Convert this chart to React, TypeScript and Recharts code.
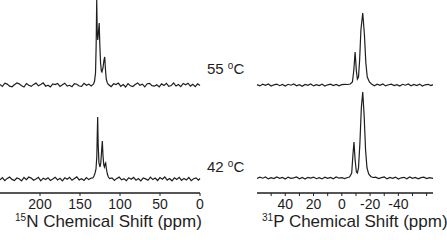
import React from 'react';
import { LineChart, Line, XAxis, YAxis } from 'recharts';

// 15N spectra: [chemical shift (ppm), intensity (a.u.)]
const n15At55: [number, number][] = [
  [250, 0.5], [247, -1.5], [244, 1.8], [241, 0.9], [238, -1.2], [235, -1.8], [232, 0.3], [229, 2.0], [226, 1.1], [223, -0.8],
  [220, -2.0], [217, 1.5], [214, -0.3], [211, -1.4], [208, 0.6], [205, 1.9], [202, -0.8], [199, 0.4], [196, 2.2], [193, -1.2],
  [190, -0.2], [187, -1.9], [184, 1.1], [181, 0.4], [178, 1.6], [175, -1.4], [172, 0.2], [169, 1.8], [166, -1.1], [163, -0.3],
  [160, -1.7], [157, 1.3], [154, 0.8], [151, -1.0], [148, -1.3], [145, 1.7], [142, -0.2], [139, 0.9], [136, -0.9],
  [133, 1], [131.8, 4], [130.6, 12], [129.8, 40], [129.1, 85], [128.5, 55], [127.8, 45], [127, 52], [126, 62], [125.3, 42],
  [124.3, 22], [123.3, 14], [122.6, 13], [121.3, 17], [120, 25], [119.1, 28], [118.2, 16], [117.2, 6], [116, 2.5], [114.5, 0.5],
  [111, -1.6], [108, 1.2], [105, 0.4], [102, 1.9], [99, -1.3], [96, 0.5], [93, -2.0], [90, 1.4], [87, -0.7], [84, -1.5],
  [81, 0.5], [78, 2.1], [75, -0.2], [72, 0.8], [69, -1.8], [66, 1.3], [63, 1.6], [60, -0.7], [57, -1.2], [54, 0.3],
  [51, -1.9], [48, 1.1], [45, -0.5], [42, 1.6], [39, -1.4], [36, -0.6], [33, 2.0], [30, -1.0], [27, 0.4], [24, -1.7],
  [21, 1.5], [18, 0.3], [15, 1.8], [12, -1.1], [9, 0.7], [6, -1.6], [3, 1.2], [0, -0.4],
];

const n15At42: [number, number][] = [
  [250, -0.8], [247, 1.4], [244, -1.7], [241, 0.6], [238, 1.9], [235, -0.4], [232, -1.6], [229, 1.0], [226, 0.2], [223, -1.9],
  [220, 1.5], [217, -0.7], [214, 2.0], [211, 0.9], [208, -1.2], [205, -0.1], [202, 1.7], [199, -1.8], [196, 0.8], [193, -0.5],
  [190, 1.3], [187, -1.4], [184, 0.1], [181, 1.8], [178, -1.0], [175, 0.7], [172, -1.8], [169, 1.2], [166, -0.3], [163, 1.6],
  [160, -1.3], [157, 0.5], [154, 2.1], [151, -0.9], [148, 0.3], [145, -1.5], [142, 1.4], [139, -0.6], [136, 0.9],
  [134, 1], [132.5, 3], [131.2, 6], [130, 10], [129, 22], [128.4, 45], [127.9, 62], [127.3, 35], [126.3, 16], [125, 12],
  [124, 16], [123, 28], [122.1, 38], [121.3, 24], [120.3, 14], [119.5, 12], [118.6, 15], [117.9, 16], [117, 10], [115.8, 5],
  [114.5, 2], [113, 0.5],
  [110, 1.1], [107, -1.4], [104, 0.6], [101, 1.9], [98, -0.8], [95, 0.2], [92, -1.7], [89, 1.3], [86, -0.2], [83, 1.6],
  [80, -1.2], [77, 0.5], [74, -1.9], [71, 1.0], [68, 0.1], [65, -1.3], [62, 1.8], [59, -0.6], [56, 0.9], [53, -1.5],
  [50, 1.4], [47, -0.3], [44, 2.0], [41, -1.1], [38, 0.4], [35, -1.8], [32, 1.2], [29, -0.5], [26, 1.7], [23, -1.3],
  [20, 0.6], [17, -0.9], [14, 1.5], [11, -1.6], [8, 0.3], [5, 1.1], [2, -1.2], [0, 0.5],
];

// 31P spectra: [chemical shift (ppm), intensity (a.u.)]
const p31At55: [number, number][] = [
  [60, 0.4], [58, -0.9], [56, 0.8], [54, -0.3], [52, 1.0], [50, -1.1], [48, 0.2], [46, 0.9], [44, -0.7], [42, 0.5],
  [40, -1.0], [38, 0.7], [36, -0.2], [34, 1.1], [32, -0.8], [30, 0.3], [28, -1.2], [26, 0.6], [24, -0.4], [22, 1.0],
  [20, -0.9], [18, 0.4], [16, -0.5], [14, 0.9], [12, -1.0], [10, 0.2], [8, 0.8], [6, -0.6], [4, 0.5], [2, -0.8],
  [0, 0.3], [-2, 0.6],
  [-4, 0.5], [-6, 1], [-7.5, 3], [-8.5, 15], [-9.4, 33], [-10.3, 14], [-11, 6], [-11.8, 8], [-12.6, 25], [-13.5, 55],
  [-14.8, 72], [-16, 50], [-17, 22], [-18, 8], [-19.5, 3], [-21, 1],
  [-23, -0.7], [-25, 0.8], [-27, -0.4], [-29, 1.0], [-31, -0.9], [-33, 0.3], [-35, 0.9], [-37, -0.6], [-39, 0.4], [-41, -1.1],
  [-43, 0.7], [-45, -0.2], [-47, 1.0], [-49, -0.8], [-51, 0.5], [-53, -0.5], [-55, 0.9], [-57, -1.0], [-59, 0.2], [-61, 0.7],
  [-63, -0.6], [-64.5, 0.4],
];

const p31At42: [number, number][] = [
  [60, -0.5], [58, 0.8], [56, -0.2], [54, 1.0], [52, -0.9], [50, 0.4], [48, -0.6], [46, 1.1], [44, -0.3], [42, 0.6],
  [40, -1.0], [38, 0.9], [36, -0.4], [34, 0.2], [32, 1.0], [30, -0.8], [28, 0.5], [26, -1.1], [24, 0.7], [22, -0.1],
  [20, 0.9], [18, -0.7], [16, 0.3], [14, -0.9], [12, 0.8], [10, -0.4], [8, 0.6], [6, -0.8], [4, 1.0], [2, -0.2],
  [0, 0.4], [-2, -0.5],
  [-4, 0.5], [-5.5, 1], [-7, 5], [-7.8, 22], [-8.6, 36], [-9.4, 18], [-10.3, 6], [-11, 5], [-11.8, 10], [-12.8, 35],
  [-13.8, 70], [-14.8, 86], [-15.8, 62], [-16.8, 28], [-17.8, 10], [-19, 4], [-20.5, 1.5], [-22, 0.5],
  [-24, 0.8], [-26, -0.6], [-28, 0.3], [-30, 1.0], [-32, -0.9], [-34, 0.5], [-36, -0.3], [-38, 0.9], [-40, -1.0], [-42, 0.2],
  [-44, 0.7], [-46, -0.7], [-48, 1.1], [-50, -0.4], [-52, 0.6], [-54, -0.9], [-56, 0.4], [-58, 0.8], [-60, -0.6], [-62, 0.3],
  [-64.5, -0.4],
];

const n15Ticks = [200, 150, 100, 50, 0];
const p31Ticks = [50, 40, 30, 20, 10, 0, -10, -20, -30, -40, -50, -60];
const p31Labeled = [40, 20, 0, -20, -40];
const tempLabels = ['55 ', '42 '];

const toPts = (arr: [number, number][]) => arr.map(([ppm, i]) => ({ ppm, i }));

const FONT = '"Liberation Sans", Arial, Helvetica, sans-serif';
const INK = '#1e1e1e';
const tickStyle = { fontSize: 14, fill: INK, fontFamily: FONT };

export default function App() {
  return (
    <div style={{ position: 'absolute', left: 0, top: 0, width: 447, height: 240, background: '#fff', overflow: 'hidden' }}>
      <div style={{ position: 'absolute', left: -10, top: 0 }}>
        <LineChart width={220} height={240} margin={{ top: 0, right: 10, bottom: 0, left: 10 }}>
          <XAxis
            type="number"
            dataKey="ppm"
            domain={[0, 250]}
            reversed
            ticks={n15Ticks}
            interval={0}
            height={47}
            tickSize={3}
            tickMargin={3}
            tick={tickStyle}
            axisLine={{ stroke: INK, strokeWidth: 1.5 }}
            tickLine={{ stroke: INK }}
          />
          <YAxis yAxisId="top" hide domain={[-108, 85]} />
          <YAxis yAxisId="bot" hide domain={[-14, 179]} />
          <Line yAxisId="top" data={toPts(n15At55)} dataKey="i" type="linear" dot={false} activeDot={false} stroke={INK} strokeWidth={1.2} isAnimationActive={false} />
          <Line yAxisId="bot" data={toPts(n15At42)} dataKey="i" type="linear" dot={false} activeDot={false} stroke={INK} strokeWidth={1.2} isAnimationActive={false} />
        </LineChart>
      </div>
      <div style={{ position: 'absolute', left: 247, top: 0 }}>
        <LineChart width={200} height={240} margin={{ top: 0, right: 14, bottom: 0, left: 10 }}>
          <XAxis
            type="number"
            dataKey="ppm"
            domain={[-64.5, 60]}
            reversed
            ticks={p31Ticks}
            interval={0}
            height={47}
            tickSize={3}
            tickMargin={3}
            tick={tickStyle}
            tickFormatter={(v: number) => (p31Labeled.includes(v) ? String(v) : '')}
            axisLine={{ stroke: INK, strokeWidth: 1.5 }}
            tickLine={{ stroke: INK }}
          />
          <YAxis yAxisId="top" hide domain={[-108, 85]} />
          <YAxis yAxisId="bot" hide domain={[-15, 178]} />
          <Line yAxisId="top" data={toPts(p31At55)} dataKey="i" type="linear" dot={false} activeDot={false} stroke={INK} strokeWidth={1.2} isAnimationActive={false} />
          <Line yAxisId="bot" data={toPts(p31At42)} dataKey="i" type="linear" dot={false} activeDot={false} stroke={INK} strokeWidth={1.2} isAnimationActive={false} />
        </LineChart>
      </div>
      <svg width={447} height={240} style={{ position: 'absolute', left: 0, top: 0, pointerEvents: 'none' }}>
        <text x={15} y={227} fontFamily={FONT} fontSize={17} fill={INK}>
          <tspan fontSize={10} dy={-6}>15</tspan>
          <tspan dy={6}>N Chemical Shift (ppm)</tspan>
        </text>
        <text x={262} y={227} fontFamily={FONT} fontSize={17} fill={INK}>
          <tspan fontSize={10} dy={-6}>31</tspan>
          <tspan dy={6}>P Chemical Shift (ppm)</tspan>
        </text>
        <text x={207} y={74} fontFamily={FONT} fontSize={15} fill={INK}>
          {tempLabels[0]}
          <tspan fontSize={10} dy={-5}>o</tspan>
          <tspan dy={5}>C</tspan>
        </text>
        <text x={207} y={172} fontFamily={FONT} fontSize={15} fill={INK}>
          {tempLabels[1]}
          <tspan fontSize={10} dy={-5}>o</tspan>
          <tspan dy={5}>C</tspan>
        </text>
      </svg>
    </div>
  );
}
